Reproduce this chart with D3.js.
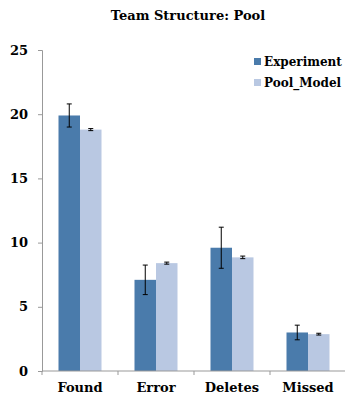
<!DOCTYPE html>
<html>
<head>
<meta charset="utf-8">
<script src="https://cdn.jsdelivr.net/npm/d3@7"></script>
<style>
  body { margin: 0; background: #fff; }
  #chart text { font-family: "DejaVu Serif", serif; font-weight: bold; fill: #000; }
</style>
</head>
<body>
<div id="chart"></div>
<script>
(function () {

    // --- data ---
    const categories = ["Found", "Error", "Deletes", "Missed"];
    const seriesNames = ["Experiment", "Pool_Model"];
    const experiment = [19.9, 7.1, 9.6, 3.0];
    const experimentErr = [0.9, 1.15, 1.6, 0.57];
    const poolModel = [18.8, 8.4, 8.85, 2.87];
    const poolModelErr = [0.08, 0.08, 0.1, 0.07];
    const yTicks = [0, 5, 10, 15, 20, 25];

    const colors = ["#4a7bab", "#b9c8e2"];

    const W = 345, H = 396;
    const margin = { top: 50, right: 0, bottom: 25, left: 42 };
    const width = W - margin.left - margin.right;
    const height = H - margin.top - margin.bottom;

    const svg = d3.select("#chart").append("svg")
        .attr("width", W).attr("height", H);

    const g = svg.append("g")
        .attr("transform", `translate(${margin.left},${margin.top})`);

    // Scales
    const x0 = d3.scaleBand().domain(categories).range([0, 304]).paddingInner(0).paddingOuter(0);
    const x1 = d3.scaleBand().domain(seriesNames).range([16.5, x0.bandwidth() - 16.5]);
    const y = d3.scaleLinear().domain([0, 25]).range([height, 0]);

    // Build rows from the arrays
    const rows = categories.map((c, i) => ({
        cat: c,
        vals: [
            { s: seriesNames[0], v: experiment[i], e: experimentErr[i] },
            { s: seriesNames[1], v: poolModel[i], e: poolModelErr[i] }
        ]
    }));

    // Bars
    const groups = g.selectAll("g.cat").data(rows).join("g")
        .attr("class", "cat")
        .attr("transform", d => `translate(${x0(d.cat)},0)`);

    groups.selectAll("rect").data(d => d.vals).join("rect")
        .attr("x", d => x1(d.s))
        .attr("y", d => y(d.v))
        .attr("width", x1.bandwidth())
        .attr("height", d => y(0) - y(d.v))
        .attr("fill", (d, i) => colors[i]);

    // Error bars
    const eb = groups.selectAll("g.err").data(d => d.vals).join("g")
        .attr("class", "err")
        .attr("stroke", "#000").attr("stroke-width", 1);
    eb.append("line")
        .attr("x1", d => x1(d.s) + x1.bandwidth() / 2)
        .attr("x2", d => x1(d.s) + x1.bandwidth() / 2)
        .attr("y1", d => y(d.v + d.e))
        .attr("y2", d => y(d.v - d.e));
    [1, -1].forEach(sgn => {
        eb.append("line")
            .attr("x1", d => x1(d.s) + x1.bandwidth() / 2 - 2.5)
            .attr("x2", d => x1(d.s) + x1.bandwidth() / 2 + 2.5)
            .attr("y1", d => y(d.v + sgn * d.e))
            .attr("y2", d => y(d.v + sgn * d.e));
    });

    // Y axis
    const yAxis = g.append("g")
        .call(d3.axisLeft(y).tickValues(yTicks).tickSize(4).tickPadding(10));
    yAxis.selectAll("path, line").attr("stroke", "#999");
    yAxis.selectAll("text").style("font-size", "13px");

    // X axis: ticks at category boundaries
    const xAxis = g.append("g").attr("transform", `translate(0,${height})`);
    xAxis.append("line").attr("x1", 0).attr("x2", 304).attr("stroke", "#999");
    xAxis.selectAll("line.tick").data(d3.range(categories.length + 1)).join("line")
        .attr("class", "tick")
        .attr("x1", i => i * x0.bandwidth()).attr("x2", i => i * x0.bandwidth())
        .attr("y1", 0).attr("y2", 4)
        .attr("stroke", "#999");
    xAxis.selectAll("text").data(categories).join("text")
        .attr("x", d => x0(d) + x0.bandwidth() / 2)
        .attr("y", 21)
        .attr("text-anchor", "middle")
        .style("font-size", "13px")
        .text(d => d);

    // Title
    svg.append("text")
        .attr("x", 188).attr("y", 20)
        .attr("text-anchor", "middle")
        .style("font-size", "13px")
        .text("Team Structure: Pool");

    // Legend
    const legend = svg.append("g").attr("transform", "translate(254,59)");
    seriesNames.forEach((s, i) => {
        const row = legend.append("g").attr("transform", `translate(0,${i * 21})`);
        row.append("rect").attr("width", 7).attr("height", 7).attr("y", -1).attr("fill", colors[i]);
        row.append("text").attr("x", 10).attr("y", 7)
            .style("font-size", "12px").text(s);
    });
})();
</script>
</body>
</html>
